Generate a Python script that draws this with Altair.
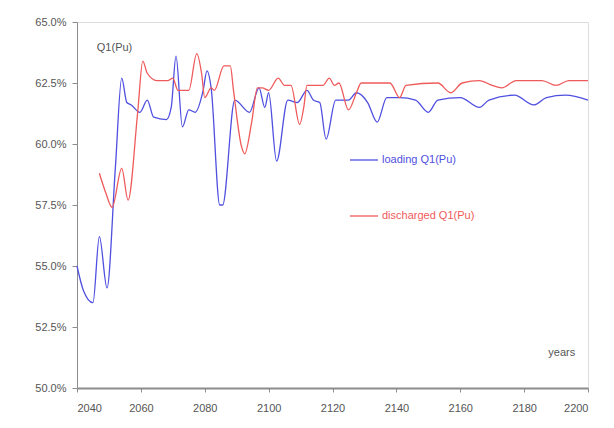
import altair as alt
import pandas as pd

# loading Q1(Pu)
load_years = [2040, 2042, 2045, 2047, 2049.4, 2052, 2054, 2055.6, 2057, 2059.7, 2062, 2064, 2068,
              2069.5, 2071, 2073, 2075, 2077, 2079.5, 2080.7, 2082, 2084.7, 2085.6, 2089.4, 2094,
              2097, 2098.8, 2100, 2102.5, 2106, 2109, 2112, 2114, 2116, 2118, 2121, 2125, 2127.5,
              2131, 2134, 2137, 2141, 2146, 2150, 2153, 2160, 2166, 2169, 2177, 2183, 2187, 2193, 2200]
load_vals = [55.0, 54.0, 53.5, 56.2, 54.1, 59.0, 62.7, 61.7, 61.6, 61.3, 61.8, 61.1, 61.0,
             61.5, 63.6, 60.7, 61.4, 61.3, 62.2, 63.0, 62.3, 57.5, 57.5, 61.8, 61.3,
             62.3, 61.5, 62.1, 59.3, 61.8, 61.7, 62.2, 61.8, 61.7, 60.2, 61.8, 61.8, 62.1,
             61.7, 60.9, 61.9, 61.9, 61.8, 61.3, 61.8, 61.9, 61.5, 61.8, 62.0, 61.6, 61.9, 62.0, 61.8]

# discharged Q1(Pu)
dis_years = [2047, 2049, 2051, 2054, 2056, 2059, 2060.6, 2062, 2065, 2068.5, 2070, 2071.6, 2075,
             2077.5, 2079, 2080, 2082, 2083, 2086, 2088, 2089, 2091.5, 2092.5, 2094.7, 2096.5,
             2098, 2100, 2103, 2105, 2107, 2109.7, 2111, 2112, 2117, 2119, 2120.6, 2122, 2125,
             2127.5, 2129, 2134, 2138, 2141, 2143, 2153, 2157, 2160.6, 2166, 2170, 2173, 2177.5,
             2185.6, 2190, 2194, 2200]
dis_vals = [58.8, 58.0, 57.4, 59.0, 57.7, 61.3, 63.4, 62.9, 62.6, 62.6, 62.7, 62.2, 62.2,
            63.7, 62.9, 61.9, 62.3, 62.2, 63.2, 63.2, 62.2, 59.9, 59.6, 60.9, 62.3,
            62.3, 62.2, 62.7, 62.4, 62.4, 60.8, 61.5, 62.4, 62.4, 62.7, 62.4, 62.5, 61.4,
            62.1, 62.5, 62.5, 62.5, 61.9, 62.4, 62.5, 62.1, 62.5, 62.6, 62.4, 62.3, 62.6,
            62.6, 62.4, 62.6, 62.6]

x_ticks = list(range(2040, 2201, 10))
y_ticks = [50 + 1.25 * i for i in range(13)]

BLUE = "#4f4fe0"
RED = "#ef5a5a"
GRAY = "#555555"
AXIS = "#8c8c8c"

df_load = pd.DataFrame({"year": load_years, "value": load_vals, "series": "loading Q1(Pu)"})
df_dis = pd.DataFrame({"year": dis_years, "value": dis_vals, "series": "discharged Q1(Pu)"})

xenc = alt.X("year:Q",
             scale=alt.Scale(domain=[2040, 2200], nice=False, zero=False),
             axis=alt.Axis(title=None, values=x_ticks,
                           labelExpr="datum.value % 20 == 0 ? datum.label : ''",
                           format="d", grid=False, domainColor=AXIS, domainWidth=2,
                           tickColor=AXIS, tickSize=4, labelPadding=10,
                           labelColor=GRAY, labelFont="Liberation Sans", labelFontSize=11))
yenc = alt.Y("value:Q",
             scale=alt.Scale(domain=[50, 65], nice=False, zero=False),
             axis=alt.Axis(title=None, values=y_ticks,
                           labelExpr="datum.value % 2.5 == 0 ? format(datum.value, '.1f') + '%' : ''",
                           grid=False, domainColor=AXIS, tickColor=AXIS, tickSize=5,
                           labelPadding=6, labelColor=GRAY, labelFont="Liberation Sans",
                           labelFontSize=11))

def legend(x, y, color):
    return alt.Legend(title=None, orient="none", legendX=x, legendY=y,
                      symbolType="stroke", symbolSize=784, symbolStrokeWidth=1.3,
                      symbolStrokeColor=color, labelColor=color,
                      labelFont="Liberation Sans", labelFontSize=11, labelOffset=3)

blue = alt.Chart(df_load).mark_line(strokeWidth=1.3, interpolate="monotone").encode(
    x=xenc, y=yenc,
    color=alt.Color("series:N", scale=alt.Scale(domain=["loading Q1(Pu)"], range=[BLUE]),
                    legend=legend(272, 123, BLUE)))

red = alt.Chart(df_dis).mark_line(strokeWidth=1.3, interpolate="monotone").encode(
    x=xenc, y=yenc,
    color=alt.Color("series:N", scale=alt.Scale(domain=["discharged Q1(Pu)"], range=[RED]),
                    legend=legend(272, 179, RED)))

notes = pd.DataFrame({"year": [2046.2], "value": [63.95], "text": ["Q1(Pu)"]})
title_txt = alt.Chart(notes).mark_text(align="left", baseline="middle", font="Liberation Sans",
                                        fontSize=11, color=GRAY).encode(
    x="year:Q", y="value:Q", text="text:N")

notes2 = pd.DataFrame({"year": [2196], "value": [51.45], "text": ["years"]})
years_txt = alt.Chart(notes2).mark_text(align="right", baseline="middle", font="Liberation Sans",
                                         fontSize=11, color=GRAY).encode(
    x="year:Q", y="value:Q", text="text:N")

chart = alt.layer(blue, red, title_txt, years_txt).resolve_scale(color="independent").properties(
    width=511, height=366,
    autosize=alt.AutoSizeParams(type="none"),
    padding={"left": 69, "top": 14, "right": 18, "bottom": 30},
).configure_view(stroke="#9a9a9a", strokeWidth=1.5).configure(background="white")

chart.save("out.html", embed_options={"renderer": "svg", "actions": False})
